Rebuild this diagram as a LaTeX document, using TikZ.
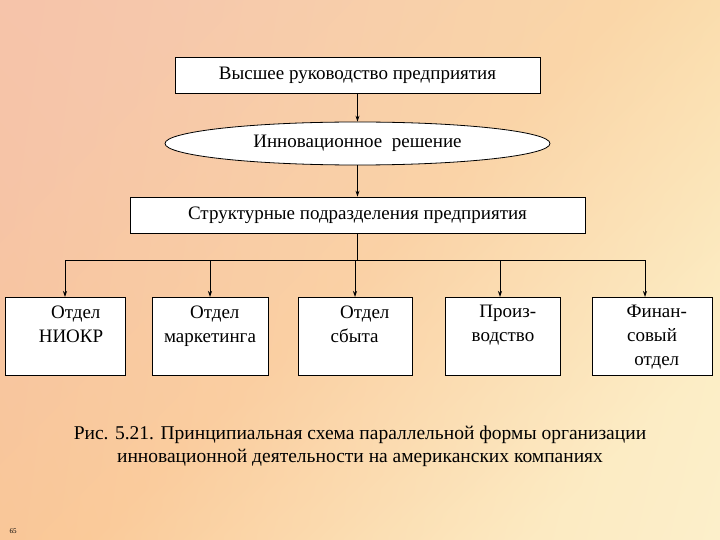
\documentclass[tikz,border=0pt]{standalone}
\usepackage{fontspec}
\setmainfont{Liberation Serif}
\usetikzlibrary{shapes.geometric,arrows.meta,shadings}
\definecolor{bgA}{RGB}{246,196,170}
\definecolor{bgB}{RGB}{250,200,150}
\definecolor{bgC}{RGB}{252,236,190}
\begin{document}
\begin{tikzpicture}[x=1pt,y=-1pt,
  box/.style={draw,line width=0.8pt,fill=white},
  txt/.style={font=\fontsize{19}{24}\selectfont},
  arr/.style={line width=0.8pt,-{Stealth[length=6pt,width=4pt]}},
  ln/.style={line width=0.8pt}]
\useasboundingbox (0,0) rectangle (720,540);
\shade[upper left=bgA,upper right=bgC,lower left=bgB,lower right=bgC!60!white] (0,0) rectangle (720,540);
\shade[left color=bgA,right color=bgC,middle color=bgB,opacity=0.5,shading angle=45] (0,0) rectangle (720,540);
\node[box,minimum width=365,minimum height=36,txt] (top) at (357.5,75) {Высшее руководство предприятия};
\node[draw,line width=0.8pt,fill=white,ellipse,minimum width=385,minimum height=43,inner sep=0,txt] (ell) at (357.5,143.5) {Инновационное\ \ решение};
\node[box,minimum width=455,minimum height=36,txt] (str) at (357.5,215) {Структурные подразделения предприятия};
\draw[arr] (top.south) -- (ell.north);
\draw[arr] (ell.south) -- (str.north);
\coordinate (j) at (357.5,260);
\draw[ln] (str.south) -- (j);
\coordinate (l) at (65,260); \coordinate (r) at (645,260);
\draw[ln] (l) -- (r);
\node[box,minimum width=120,minimum height=78] (b1) at (65,336) {};
\node[box,minimum width=116,minimum height=78] (b2) at (210,336) {};
\node[box,minimum width=114,minimum height=78] (b3) at (355,336) {};
\node[box,minimum width=115,minimum height=78] (b4) at (502.5,336) {};
\node[box,minimum width=120,minimum height=78] (b5) at (652,336) {};
\foreach \b/\x in {b1/65,b2/210,b3/355,b4/500,b5/645}{
  \coordinate (t\b) at (\x,260);
  \draw[arr] (t\b) -- (\x,297);
}
\node[txt,align=center,anchor=north] (t1) at (71,302) {\ \ Отдел\\НИОКР};
\node[txt,align=center,anchor=north] (t2) at (210,302) {\ \ Отдел\\маркетинга};
\node[txt,align=left,anchor=north] (t3) at (360,302) {\ \ Отдел\\сбыта};
\node[txt,align=center,anchor=north] (t4) at (503,302) {\ \ Произ-\\водство};
\node[txt,align=center,anchor=north] (t5) at (652,302) {\ \ Финан-\\совый\\\ \ отдел};
\node[txt,align=center,font=\fontsize{19.5}{23}\selectfont] (cap) at (360,446) {Рис. 5.21. Принципиальная схема параллельной формы организации\\инновационной деятельности на американских компаниях};
\node[font=\fontsize{7}{8}\selectfont] (pg) at (13,531) {65};
\end{tikzpicture}
\end{document}
